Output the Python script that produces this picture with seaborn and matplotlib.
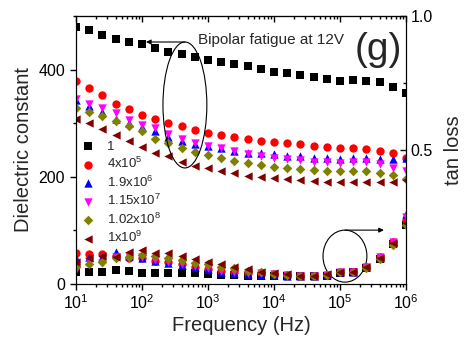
import matplotlib
matplotlib.use('Agg')
import matplotlib.pyplot as plt
from matplotlib.patches import Ellipse
from matplotlib.ticker import FixedLocator, FormatStrFormatter
import seaborn as sns
import numpy as np

# frequencies, 5 points per decade from 10 Hz to 1 MHz
freq = 10 ** np.linspace(1, 6, 26)

cycles = ['1', r'4x10$^5$', r'1.9x10$^6$', r'1.15x10$^7$', r'1.02x10$^8$', r'1x10$^9$']
colors = ['#000000', '#ff0000', '#0000ff', '#ff00ff', '#808000', '#800000']
markers = ['s', 'o', '^', 'v', 'D', '<']

# dielectric constant (left axis)
eps_1 = [480, 473, 465, 457, 452, 447, 440, 433, 429, 424, 418, 414, 411,
         406, 401, 396, 393, 390, 387, 383, 379, 381, 379, 376, 368, 357]
eps_4e5 = [379, 365, 353, 336, 326, 316, 308, 300, 294, 287, 282, 278, 274,
           271, 267, 264, 263, 261, 258, 256, 253, 254, 252, 249, 244, 235]
eps_19e6 = [343, 332, 321, 308, 300, 292, 285, 275, 267, 261, 258, 253, 249,
            244, 244, 242, 239, 239, 236, 235, 233, 235, 235, 233, 233, 235]
eps_115e7 = [345, 336, 328, 319, 306, 297, 291, 280, 271, 263, 258, 253, 248,
             242, 238, 236, 233, 231, 228, 228, 226, 227, 227, 224, 217, 210]
eps_102e8 = [328, 320, 313, 305, 294, 285, 271, 263, 253, 246, 241, 236, 230,
             225, 222, 219, 216, 214, 213, 211, 210, 211, 210, 208, 203, 195]
eps_1e9 = [307, 300, 289, 278, 266, 256, 244, 238, 228, 221, 216, 211, 207,
           202, 199, 197, 195, 194, 192, 191, 190, 191, 191, 190, 191, 194]

# tan loss (right axis)
tan_1 = [0.044, 0.044, 0.044, 0.052, 0.049, 0.042, 0.040, 0.040, 0.040, 0.040, 0.037, 0.034, 0.034,
         0.030, 0.028, 0.028, 0.028, 0.028, 0.028, 0.030, 0.040, 0.044, 0.060, 0.095, 0.150, 0.220]
tan_4e5 = [0.115, 0.111, 0.111, 0.105, 0.098, 0.096, 0.087, 0.083, 0.073, 0.065, 0.057, 0.050, 0.046,
           0.042, 0.040, 0.037, 0.034, 0.031, 0.030, 0.034, 0.046, 0.046, 0.065, 0.100, 0.155, 0.240]
tan_19e6 = [0.097, 0.102, 0.102, 0.121, 0.105, 0.096, 0.085, 0.079, 0.071, 0.065, 0.055, 0.046, 0.042,
            0.036, 0.034, 0.032, 0.030, 0.028, 0.028, 0.033, 0.044, 0.046, 0.063, 0.102, 0.158, 0.260]
tan_115e7 = [0.052, 0.085, 0.080, 0.100, 0.105, 0.100, 0.090, 0.082, 0.073, 0.066, 0.058, 0.050, 0.046,
             0.042, 0.040, 0.036, 0.034, 0.031, 0.030, 0.034, 0.046, 0.046, 0.064, 0.100, 0.155, 0.250]
tan_102e8 = [0.065, 0.073, 0.083, 0.096, 0.100, 0.108, 0.104, 0.096, 0.090, 0.080, 0.073, 0.065, 0.058,
             0.050, 0.044, 0.038, 0.034, 0.031, 0.030, 0.034, 0.044, 0.044, 0.060, 0.094, 0.145, 0.220]
tan_1e9 = [0.083, 0.096, 0.104, 0.102, 0.121, 0.127, 0.115, 0.115, 0.104, 0.092, 0.083, 0.073, 0.065,
           0.055, 0.046, 0.040, 0.036, 0.031, 0.030, 0.036, 0.046, 0.046, 0.065, 0.098, 0.152, 0.226]

eps_all = [eps_1, eps_4e5, eps_19e6, eps_115e7, eps_102e8, eps_1e9]
tan_all = [tan_1, tan_4e5, tan_19e6, tan_115e7, tan_102e8, tan_1e9]

sns.set_style('ticks')
plt.rcParams['font.family'] = ['Liberation Sans', 'DejaVu Sans']
plt.rcParams['mathtext.default'] = 'regular'
plt.rcParams['xtick.major.size'] = 4.5
plt.rcParams['ytick.major.size'] = 4.5
plt.rcParams['xtick.minor.size'] = 2.5
plt.rcParams['ytick.minor.size'] = 2.5
plt.rcParams['xtick.color'] = 'black'
plt.rcParams['ytick.color'] = 'black'

fig = plt.figure(figsize=(4.66, 3.44), dpi=100)
ax = fig.add_axes([76/466, 60/344, 330/466, 268/344])

sizes = {'s': 26, 'o': 36, '^': 36, 'v': 36, 'D': 24, '<': 36}
for lab, c, m, e in zip(cycles, colors, markers, eps_all):
    sns.scatterplot(x=freq, y=e, ax=ax, color=c, marker=m, s=sizes[m],
                    linewidth=0, label=lab)

ax.set_xscale('log')
ax.set_xlim(10, 1e6)
ax.set_ylim(0, 500)
ax.yaxis.set_major_locator(FixedLocator([0, 200, 400]))
ax.yaxis.set_minor_locator(FixedLocator([100, 300, 500]))
ax.tick_params(axis='both', which='both', direction='out', labelsize=11.5,
               width=1.0, bottom=True, left=True, top=False, right=False)
ax.tick_params(axis='x', pad=2)

ax2 = ax.twinx()
for c, m, t in zip(colors, markers, tan_all):
    sns.scatterplot(x=freq, y=t, ax=ax2, color=c, marker=m, s=sizes[m],
                    linewidth=0, legend=False)
ax2.set_ylim(0, 1.0)
ax2.yaxis.set_major_locator(FixedLocator([0.5, 1.0]))
ax2.yaxis.set_minor_locator(FixedLocator([0.25, 0.75]))
ax2.yaxis.set_major_formatter(FormatStrFormatter('%.1f'))
ax2.tick_params(axis='y', which='both', direction='in', labelsize=11.5, width=1.0)

# top ticks pointing inward, drawn by a secondary axis
top = ax.secondary_xaxis('top')
top.tick_params(axis='x', which='both', direction='in', labeltop=False, width=1.0)

for a in (ax, ax2):
    for sp in a.spines.values():
        sp.set_visible(True)
        sp.set_linewidth(0.8)
        sp.set_color('black')

ax.set_xlabel('Frequency (Hz)', fontsize=14.5, labelpad=3)
ax.set_ylabel('Dielectric constant', fontsize=14.5, labelpad=4)
ax2.set_ylabel('tan loss', fontsize=14.5, labelpad=8)

leg = ax.legend(loc='upper left', bbox_to_anchor=(0.012, 0.535), frameon=False,
                fontsize=9.5, handlelength=1.2, handletextpad=0.85, labelspacing=0.25,
                borderpad=0, borderaxespad=0, markerscale=1.0)

# annotations
ax.add_patch(Ellipse((0.330, 0.668), 0.133, 0.470, transform=ax.transAxes,
                     fill=False, edgecolor='black', linewidth=0.8))
ax.annotate('', xy=(0.212, 0.903), xytext=(0.330, 0.903), xycoords='axes fraction',
            arrowprops=dict(arrowstyle='-|>', color='black', lw=0.8,
                            mutation_scale=7, shrinkA=0, shrinkB=0))
ax.add_patch(Ellipse((0.815, 0.104), 0.133, 0.194, transform=ax.transAxes,
                     fill=False, edgecolor='black', linewidth=0.8))
ax.annotate('', xy=(0.933, 0.201), xytext=(0.815, 0.201), xycoords='axes fraction',
            arrowprops=dict(arrowstyle='-|>', color='black', lw=0.8,
                            mutation_scale=7, shrinkA=0, shrinkB=0))
ax.text(0.370, 0.912, 'Bipolar fatigue at 12V', transform=ax.transAxes,
        fontsize=11, va='center', ha='left')
ax.text(0.915, 0.873, '(g)', transform=ax.transAxes, fontsize=28,
        va='center', ha='center')

fig.savefig('out.png', dpi=100)
